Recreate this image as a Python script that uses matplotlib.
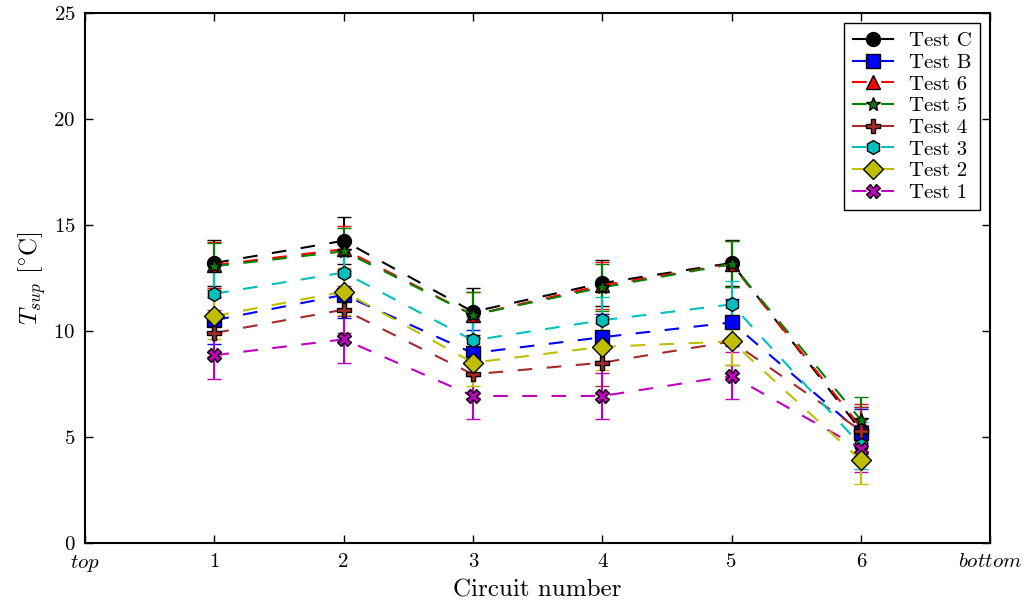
import matplotlib
matplotlib.use("Agg")
import matplotlib.pyplot as plt

plt.rcParams['font.family'] = ['cmr10', 'DejaVu Serif']
plt.rcParams['mathtext.fontset'] = 'cm'
plt.rcParams['axes.formatter.use_mathtext'] = True

circuits = [1, 2, 3, 4, 5, 6]
x_ticks = [0, 1, 2, 3, 4, 5, 6, 7]
x_ticklabels = [r'$top$', '1', '2', '3', '4', '5', '6', r'$bottom$']
y_ticks = [0, 5, 10, 15, 20, 25]

names = ['Test C', 'Test B', 'Test 6', 'Test 5', 'Test 4', 'Test 3', 'Test 2', 'Test 1']
test_c = [13.2, 14.25, 10.9, 12.25, 13.2, 5.3]
test_b = [10.5, 11.7, 8.95, 9.7, 10.4, 5.2]
test_6 = [13.1, 13.85, 10.75, 12.15, 13.15, 5.45]
test_5 = [13.05, 13.75, 10.75, 12.05, 13.15, 5.8]
test_4 = [9.9, 11.0, 7.95, 8.5, 9.5, 5.3]
test_3 = [11.75, 12.75, 9.55, 10.5, 11.25, 4.6]
test_2 = [10.7, 11.85, 8.5, 9.25, 9.5, 3.9]
test_1 = [8.85, 9.6, 6.93, 6.93, 7.88, 4.45]
errors = [1.1, 1.1, 1.1, 1.1, 1.1, 1.1]

series = [test_c, test_b, test_6, test_5, test_4, test_3, test_2, test_1]
colors = ['k', 'b', 'r', 'g', 'brown', (0, 0.75, 0.75), (0.75, 0.75, 0), (0.75, 0, 0.75)]
markers = ['o', 's', '^', '*', 'P', 'h', 'D', 'X']
msizes = [10, 10, 10, 10, 10, 10, 10.5, 10]
draw_order = [0, 1, 2, 3, 4, 5, 7, 6]

fig = plt.figure(figsize=(10.25, 6.1), dpi=100)
ax = fig.add_axes([0.083, 0.110, 0.883, 0.869])

handles = [None] * len(series)
for i in draw_order:
    h = ax.errorbar(circuits, series[i], yerr=errors, color=colors[i], ls=(0, (7, 7)), lw=1.5,
                    marker=markers[i], ms=msizes[i], mec='k', mew=1.0, mfc=colors[i],
                    ecolor=colors[i], elinewidth=1.5, capsize=5, capthick=1.5,
                    label=names[i])
    handles[i] = h[0]

ax.set_xlim(0, 7)
ax.set_ylim(0, 25)
ax.set_xticks(x_ticks)
ax.set_xticklabels(x_ticklabels)
ax.set_yticks(y_ticks)
ax.tick_params(direction='in', top=True, right=True, labelsize=15, length=6, width=1, pad=7)
for s in ax.spines.values():
    s.set_linewidth(1.5)
ax.set_xlabel('Circuit number', fontsize=18, labelpad=4)
ax.set_ylabel(r'$T_{sup}$ [$^{\circ}$C]', fontsize=18)

leg = ax.legend(handles, names, loc='upper right', numpoints=1, fontsize=15,
                fancybox=False, edgecolor='k', framealpha=1, handlelength=2.0,
                handletextpad=0.7, labelspacing=0.15, borderaxespad=0.5)
leg.get_frame().set_linewidth(1.0)

fig.savefig('out.png', dpi=100)
